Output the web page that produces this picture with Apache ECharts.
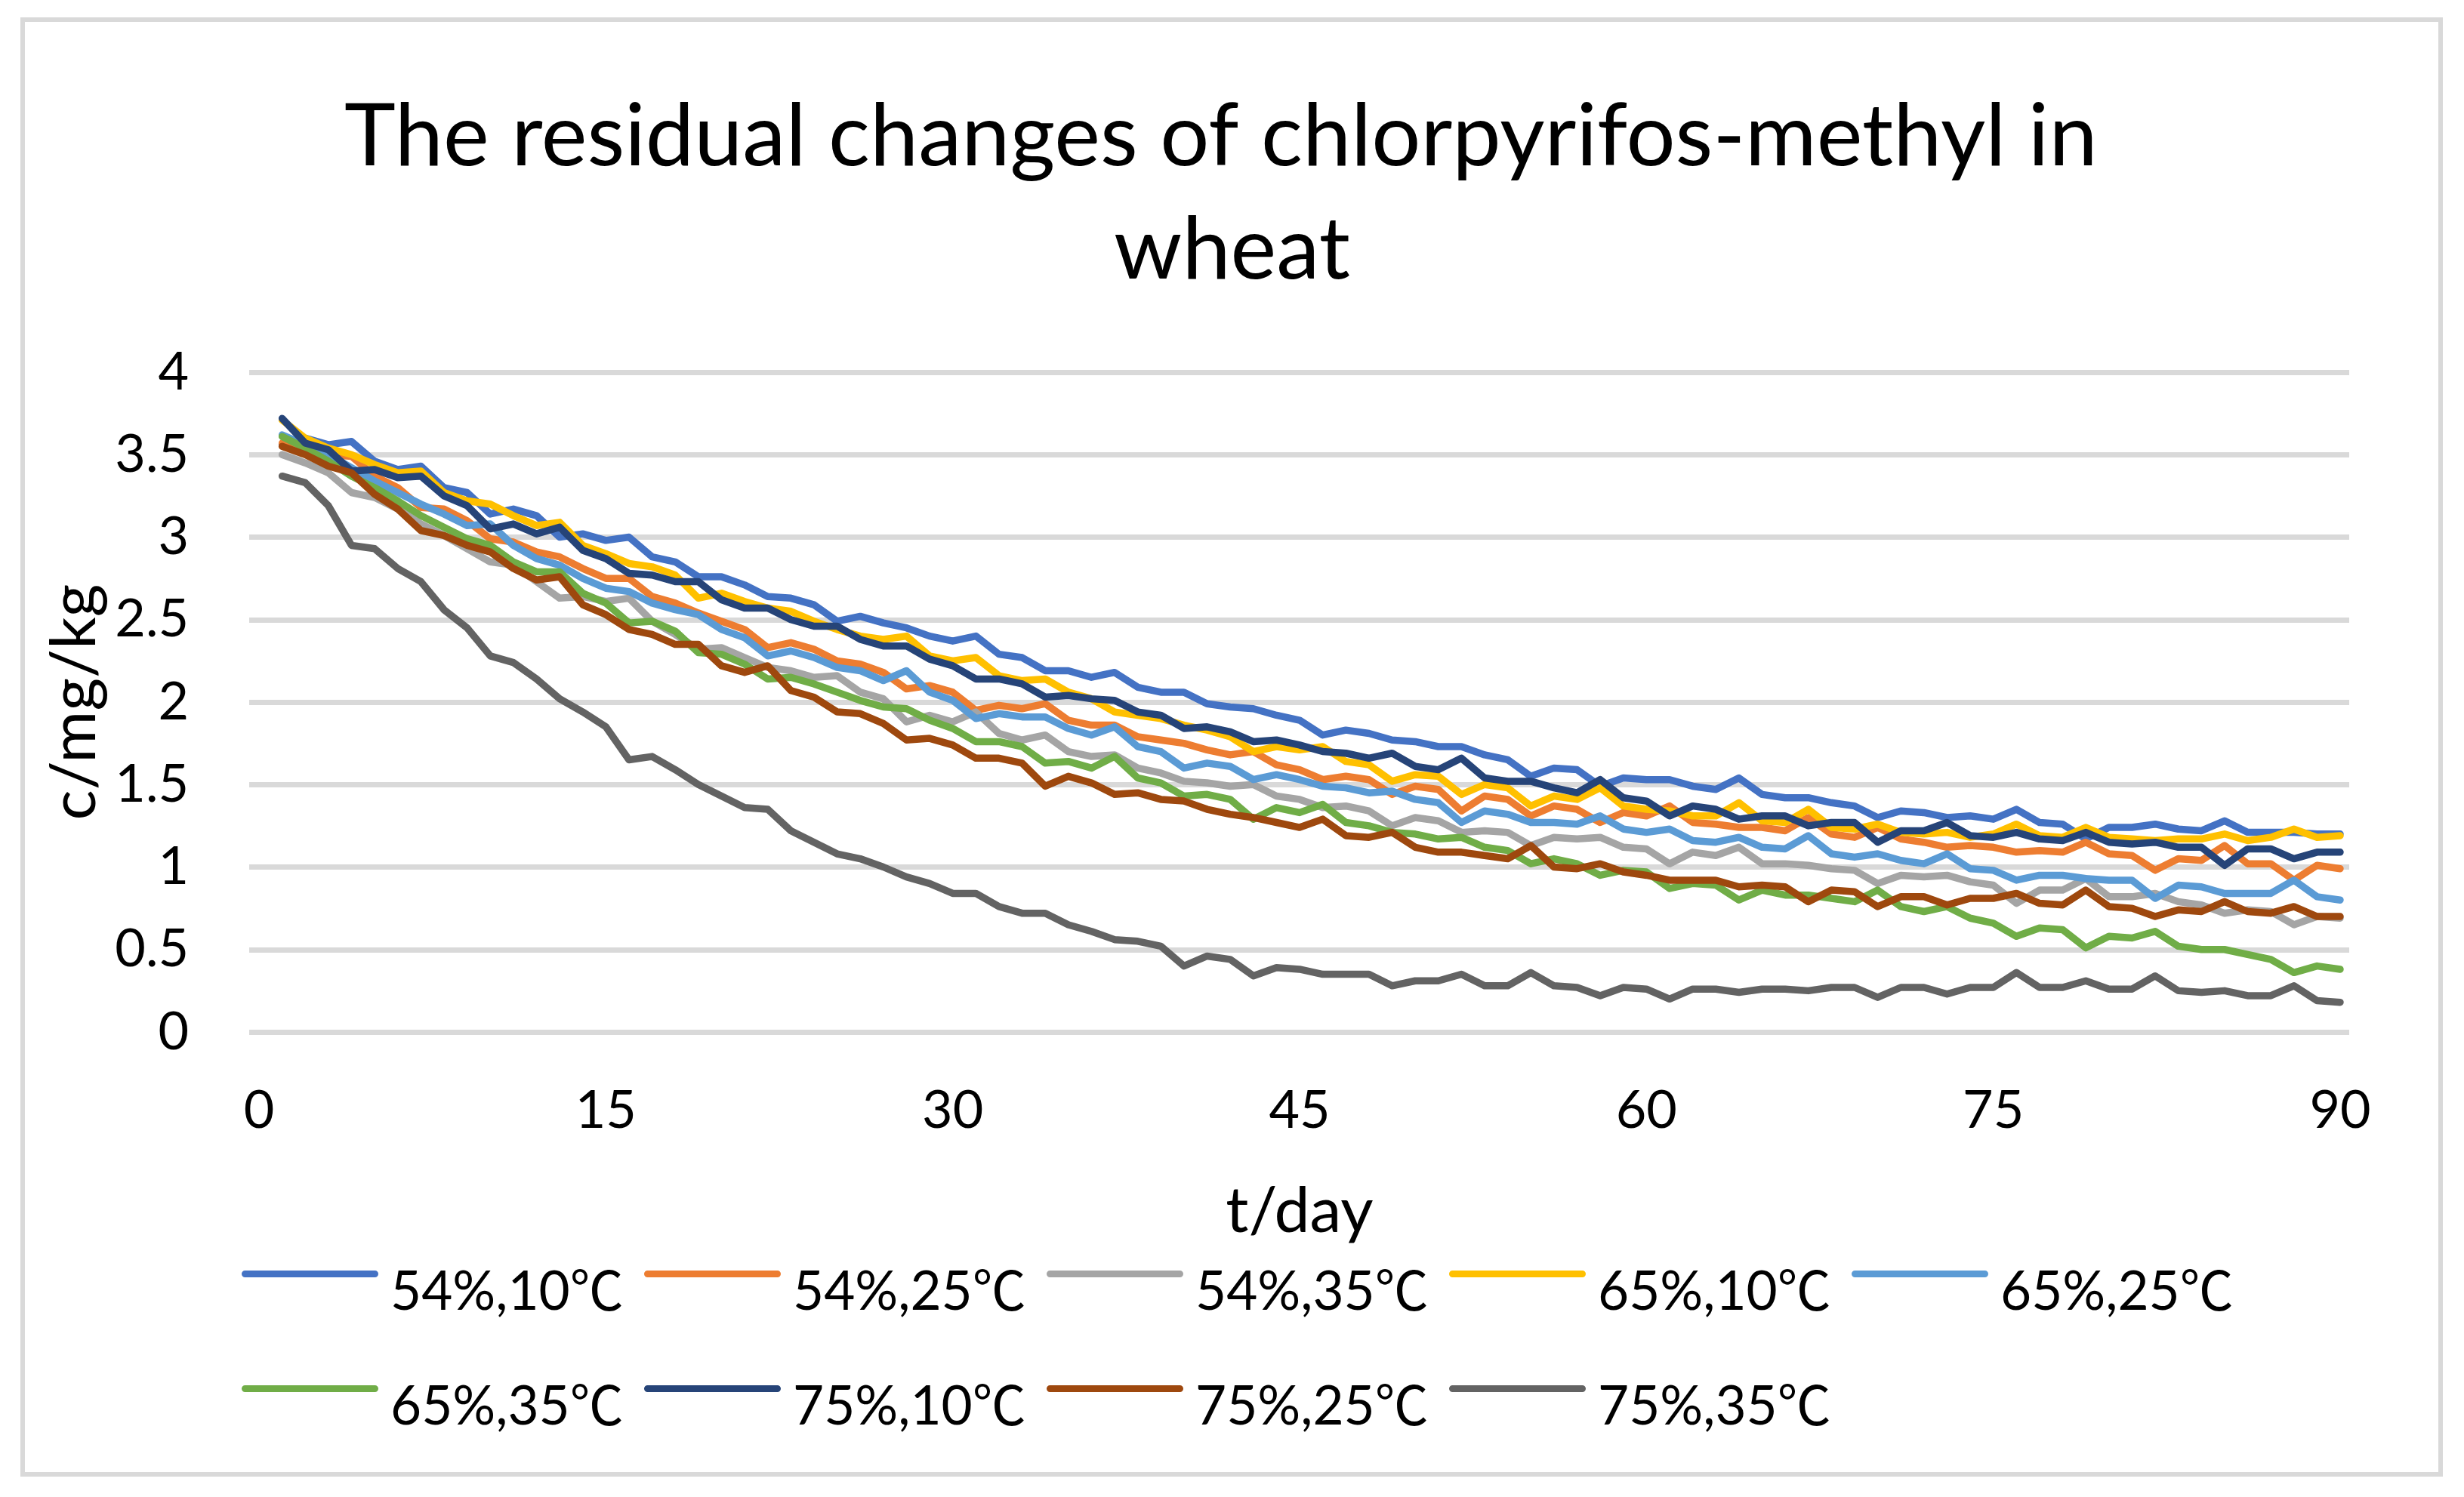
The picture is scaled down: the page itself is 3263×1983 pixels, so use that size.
<!DOCTYPE html>
<html>
<head>
<meta charset="utf-8">
<script src="https://cdn.jsdelivr.net/npm/echarts@6/dist/echarts.min.js"></script>
<style>
html,body{margin:0;padding:0;background:#fff;}
#chart{width:3263px;height:1983px;}
</style>
</head>
<body>
<div id="chart"></div>
<script>
// ---- data ----
const days = [1,2,3,4,5,6,7,8,9,10,11,12,13,14,15,16,17,18,19,20,21,22,23,24,25,26,27,28,29,30,
31,32,33,34,35,36,37,38,39,40,41,42,43,44,45,46,47,48,49,50,51,52,53,54,55,56,57,58,59,60,
61,62,63,64,65,66,67,68,69,70,71,72,73,74,75,76,77,78,79,80,81,82,83,84,85,86,87,88,89,90];

const xTicks = [0, 15, 30, 45, 60, 75, 90];
const yTicks = [0, 0.5, 1, 1.5, 2, 2.5, 3, 3.5, 4];

const seriesNames = ['54%,10℃','54%,25℃','54%,35℃','65%,10℃','65%,25℃','65%,35℃','75%,10℃','75%,25℃','75%,35℃'];

const s54_10 = [3.56,3.60,3.56,3.58,3.46,3.41,3.43,3.30,3.27,3.14,3.17,3.13,3.00,3.02,2.98,3.00,2.88,2.85,2.76,2.76,2.71,
2.64,2.63,2.59,2.49,2.52,2.48,2.45,2.40,2.37,2.40,2.29,2.27,2.19,2.19,2.15,2.18,2.09,2.06,2.06,1.99,1.97,1.96,1.92,1.89,1.80,1.83,
1.81,1.77,1.76,1.73,1.73,1.68,1.65,1.55,1.60,1.59,1.49,1.54,1.53,1.53,1.49,1.47,1.54,1.44,1.42,1.42,
1.39,1.37,1.30,1.34,1.33,1.30,1.31,1.29,1.35,1.27,1.26,1.17,1.24,1.24,1.26,1.23,1.22,1.28,1.21,1.21,1.21,1.20,1.20];

const s54_25 = [3.57,3.53,3.50,3.49,3.37,3.30,3.18,3.17,3.10,2.99,2.97,2.91,2.88,2.81,2.75,2.75,2.64,2.60,2.54,2.49,2.44,
2.33,2.36,2.32,2.25,2.23,2.18,2.08,2.10,2.06,1.95,1.98,1.96,1.99,1.89,1.86,1.86,1.79,1.77,1.75,1.71,1.68,1.70,1.62,1.59,1.53,1.55,
1.53,1.44,1.49,1.47,1.34,1.43,1.41,1.31,1.37,1.35,1.27,1.33,1.31,1.37,1.27,1.26,1.24,1.24,1.22,1.30,
1.20,1.18,1.24,1.17,1.15,1.12,1.13,1.12,1.09,1.10,1.09,1.15,1.08,1.07,0.98,1.05,1.04,1.13,1.02,1.02,0.92,1.01,0.99];

const s54_35 = [3.50,3.45,3.39,3.27,3.24,3.17,3.08,3.01,2.93,2.85,2.83,2.73,2.63,2.64,2.61,2.63,2.49,2.41,2.32,2.33,2.27,
2.21,2.19,2.15,2.16,2.06,2.02,1.88,1.92,1.88,1.94,1.81,1.77,1.80,1.70,1.67,1.68,1.60,1.57,1.52,1.51,1.49,1.50,1.43,1.41,1.36,1.37,
1.34,1.25,1.30,1.28,1.21,1.22,1.21,1.13,1.18,1.17,1.18,1.12,1.11,1.02,1.09,1.07,1.12,1.02,1.02,1.01,
0.99,0.98,0.90,0.95,0.94,0.95,0.91,0.89,0.78,0.86,0.86,0.93,0.82,0.82,0.84,0.79,0.77,0.72,0.74,0.73,0.65,0.70,0.69];

const s65_10 = [3.71,3.60,3.54,3.50,3.44,3.39,3.40,3.27,3.22,3.20,3.13,3.07,3.09,2.95,2.90,2.84,2.82,2.77,2.63,2.66,2.61,
2.57,2.55,2.49,2.44,2.40,2.38,2.40,2.28,2.25,2.27,2.16,2.13,2.14,2.06,2.02,1.94,1.92,1.90,1.86,1.83,1.79,1.70,1.73,1.71,1.73,1.64,
1.62,1.52,1.56,1.55,1.44,1.50,1.48,1.37,1.43,1.41,1.48,1.37,1.35,1.34,1.31,1.31,1.39,1.28,1.27,1.35,
1.24,1.23,1.26,1.21,1.20,1.21,1.18,1.20,1.26,1.19,1.18,1.24,1.18,1.17,1.16,1.17,1.17,1.20,1.16,1.18,1.23,1.18,1.19];

const s65_25 = [3.62,3.56,3.50,3.42,3.34,3.27,3.20,3.14,3.07,3.08,2.95,2.87,2.83,2.75,2.69,2.67,2.60,2.56,2.53,2.44,2.39,
2.28,2.31,2.27,2.21,2.19,2.13,2.19,2.06,2.01,1.90,1.93,1.91,1.91,1.84,1.80,1.85,1.73,1.70,1.60,1.63,1.61,1.53,1.56,1.53,1.49,1.48,
1.45,1.46,1.41,1.39,1.27,1.34,1.32,1.27,1.27,1.26,1.31,1.23,1.21,1.23,1.16,1.15,1.18,1.12,1.11,1.19,
1.08,1.06,1.08,1.04,1.02,1.08,0.99,0.98,0.92,0.95,0.95,0.93,0.92,0.92,0.81,0.89,0.88,0.84,0.84,0.84,0.92,0.82,0.80];

const s65_35 = [3.61,3.54,3.46,3.37,3.30,3.22,3.13,3.06,2.99,2.95,2.85,2.79,2.79,2.66,2.60,2.48,2.49,2.43,2.30,2.29,2.23,
2.14,2.15,2.11,2.06,2.01,1.97,1.96,1.89,1.84,1.76,1.76,1.73,1.63,1.64,1.60,1.67,1.54,1.51,1.43,1.44,1.41,1.29,1.36,1.33,1.38,1.27,
1.25,1.21,1.20,1.17,1.18,1.12,1.10,1.02,1.05,1.02,0.95,0.98,0.97,0.87,0.90,0.89,0.80,0.86,0.83,0.83,
0.81,0.79,0.86,0.76,0.73,0.76,0.69,0.66,0.58,0.63,0.62,0.51,0.58,0.57,0.61,0.52,0.50,0.50,0.47,0.44,0.36,0.40,0.38];

const s75_10 = [3.72,3.57,3.53,3.40,3.41,3.36,3.37,3.25,3.19,3.05,3.08,3.02,3.06,2.92,2.87,2.78,2.77,2.73,2.73,2.62,2.57,
2.57,2.50,2.46,2.46,2.38,2.34,2.34,2.26,2.22,2.14,2.14,2.11,2.03,2.04,2.02,2.01,1.94,1.92,1.84,1.85,1.82,1.76,1.77,1.74,1.70,1.69,
1.66,1.69,1.61,1.59,1.66,1.54,1.52,1.52,1.48,1.45,1.53,1.42,1.40,1.31,1.37,1.35,1.29,1.31,1.31,1.25,
1.27,1.27,1.15,1.22,1.22,1.27,1.19,1.18,1.21,1.17,1.16,1.21,1.15,1.14,1.15,1.12,1.12,1.01,1.11,1.11,1.05,1.09,1.09];

const s75_25 = [3.55,3.50,3.43,3.39,3.26,3.17,3.04,3.01,2.95,2.91,2.81,2.74,2.76,2.59,2.53,2.44,2.41,2.35,2.35,2.22,2.18,
2.22,2.07,2.03,1.94,1.93,1.87,1.77,1.78,1.74,1.66,1.66,1.63,1.49,1.55,1.51,1.44,1.45,1.41,1.40,1.35,1.32,1.30,1.27,1.24,1.29,1.19,
1.18,1.21,1.12,1.09,1.09,1.07,1.05,1.13,1.00,0.99,1.02,0.97,0.95,0.92,0.92,0.92,0.88,0.89,0.88,0.79,
0.86,0.85,0.76,0.82,0.82,0.77,0.81,0.81,0.84,0.78,0.77,0.86,0.76,0.75,0.70,0.74,0.73,0.79,0.73,0.72,0.76,0.70,0.70];

const s75_35 = [3.37,3.33,3.19,2.95,2.93,2.81,2.73,2.56,2.45,2.28,2.24,2.14,2.02,1.94,1.85,
1.65,1.67,1.59,1.50,1.43,1.36,1.35,1.22,1.15,
1.08,1.05,1.00,0.94,0.90,0.84,0.84,0.76,0.72,0.72,0.65,0.61,0.56,0.55,
0.52,0.40,0.46,0.44,0.34,0.39,
0.38,0.35,0.35,0.35,0.28,0.31,0.31,0.35,0.28,0.28,0.36,0.28,0.27,0.22,0.27,0.26,0.20,0.26,0.26,0.24,0.26,0.26,0.25,
0.27,0.27,0.21,0.27,0.27,0.23,0.27,0.27,0.36,0.27,0.27,0.31,0.26,0.26,0.34,0.25,0.24,0.25,0.22,0.22,0.28,0.19,0.18];

const seriesValues = [s54_10, s54_25, s54_35, s65_10, s65_25, s65_35, s75_10, s75_25, s75_35];
const seriesColors = ['#4472C4','#ED7D31','#A5A5A5','#FFC000','#5B9BD5','#70AD47','#264478','#9E480E','#636363'];

// ---- chart ----
const FONT = 'Lato, "Noto Sans CJK SC", "DejaVu Sans", sans-serif';
const chart = echarts.init(document.getElementById('chart'), null, {renderer: 'canvas', width: 3263, height: 1983});

const series = seriesNames.map((name, i) => ({
  name: name,
  type: 'line',
  xAxisIndex: 1,
  yAxisIndex: 1,
  data: days.map((d, j) => [d, seriesValues[i][j]]),
  symbol: 'none',
  smooth: false,
  color: seriesColors[i],
  itemStyle: {color: seriesColors[i], borderWidth: 0},
  lineStyle: {width: 9.5, color: seriesColors[i], cap: 'round', join: 'round'},
  emphasis: {disabled: true},
  z: 3 + i
}));

// legend icon: a rounded bar in the upper part of a taller box (line sits above the text centre, as in the reference)
const legendIcon = 'path://M4.5,0 L176.5,0 A4.5,4.5 0 0 1 176.5,9 L4.5,9 A4.5,4.5 0 0 1 4.5,0 Z M0,59 L192,59';

const legendCommon = {
  left: 320, orient: 'horizontal',
  itemWidth: 192, itemHeight: 59, itemGap: 0, padding: 0,
  icon: legendIcon,
  itemStyle: {borderWidth: 0},
  textStyle: {fontFamily: FONT, fontSize: 71, color: '#000', lineHeight: 70, width: 336},
  selectedMode: false
};

const option = {
  backgroundColor: '#fff',
  animation: false,
  title: {
    text: 'The residual changes of chlorpyrifos-methyl in \nwheat',
    left: 'center',
    top: 107,
    padding: 0,
    textStyle: {fontFamily: FONT, fontSize: 115, fontWeight: 'normal', color: '#000', lineHeight: 150}
  },
  graphic: [{
    type: 'rect',
    shape: {x: 30, y: 26, width: 3202, height: 1927},
    style: {fill: 'none', stroke: '#D9D9D9', lineWidth: 6},
    silent: true, z: 0
  }],
  legend: [
    Object.assign({data: seriesNames.slice(0, 5), top: 1677}, legendCommon),
    Object.assign({data: seriesNames.slice(5), top: 1829}, legendCommon)
  ],
  grid: [
    {left: 330, right: 152, top: 493, bottom: 616, containLabel: false},
    {left: 343, right: 164, top: 493, bottom: 616, containLabel: false}
  ],
  xAxis: [{
    gridIndex: 0, type: 'value', min: 0, max: 1, show: false
  }, {
    gridIndex: 1, type: 'value', min: xTicks[0], max: xTicks[xTicks.length - 1], interval: 15,
    name: 't/day', nameLocation: 'middle', nameGap: 196,
    nameTextStyle: {fontFamily: FONT, fontSize: 84, color: '#000', lineHeight: 84},
    axisLine: {show: false}, axisTick: {show: false}, splitLine: {show: false},
    axisLabel: {fontFamily: FONT, fontSize: 70, color: '#000', lineHeight: 70, margin: 69}
  }],
  yAxis: [{
    gridIndex: 0, type: 'value', min: yTicks[0], max: yTicks[yTicks.length - 1], interval: 0.5,
    name: 'c/mg/kg', nameLocation: 'middle', nameGap: 185, nameRotate: 90,
    nameTextStyle: {fontFamily: FONT, fontSize: 84, color: '#000', lineHeight: 84},
    axisLine: {show: false}, axisTick: {show: false},
    splitLine: {show: true, lineStyle: {color: '#D9D9D9', width: 7}},
    axisLabel: {fontFamily: FONT, fontSize: 70, color: '#000', margin: 80}
  }, {
    gridIndex: 1, type: 'value', min: 0, max: 4, interval: 0.5, show: false,
    splitLine: {show: false}
  }],
  series: series
};

chart.setOption(option);
</script>
</body>
</html>
